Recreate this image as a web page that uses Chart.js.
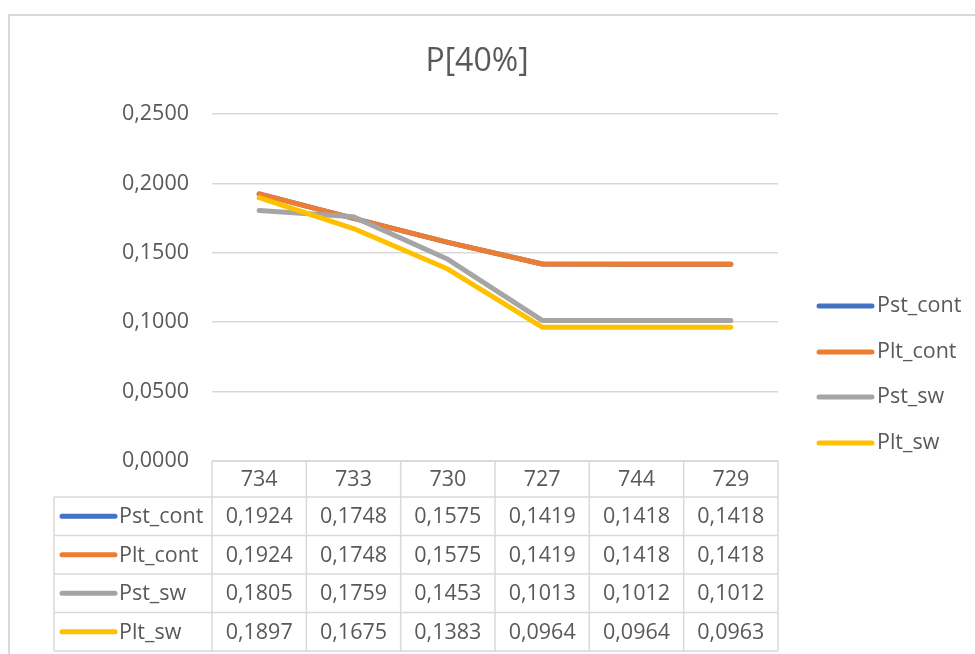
<!DOCTYPE html>
<html lang="es">
<head>
  <meta charset="UTF-8">
  <title>P[40%]</title>
  <script src="https://cdn.jsdelivr.net/npm/chart.js"></script>
  <style>
    html, body {
      margin: 0;
      padding: 0;
      background-color: #fff;
    }
    .container {
      position: relative;
      width: 975px;
      height: 654px;
    }
  </style>
</head>
<body>
  <div class="container">
    <canvas id="graficoP40" width="975" height="654"></canvas>
  </div>

  <script>
    // Datos
    const categorias = ['734', '733', '730', '727', '744', '729'];
    const pstCont = [0.1924, 0.1748, 0.1575, 0.1419, 0.1418, 0.1418];
    const pltCont = [0.1924, 0.1748, 0.1575, 0.1419, 0.1418, 0.1418];
    const pstSw = [0.1805, 0.1759, 0.1453, 0.1013, 0.1012, 0.1012];
    const pltSw = [0.1897, 0.1675, 0.1383, 0.0964, 0.0964, 0.0963];
    const nombres = ['Pst_cont', 'Plt_cont', 'Pst_sw', 'Plt_sw'];
    const colores = ['#4472C4', '#ED7D31', '#A5A5A5', '#FFC000'];
    const titulo = 'P[40%]';

    const fuente = '"Open Sans", "Noto Sans", sans-serif';
    const gris = '#595959';
    const lineaTabla = '#d9d9d9';
    const tamTexto = 21.5;

    const formato = v => v.toFixed(4).replace('.', ',');

    // Titulo, leyenda, tabla de datos y borde
    const extras = {
      id: 'extras',
      afterDraw(chart) {
        const ctx = chart.ctx;
        const x = chart.scales.x;
        const area = chart.chartArea;
        const series = chart.data.datasets;
        ctx.save();

        // borde del grafico
        ctx.strokeStyle = lineaTabla;
        ctx.lineWidth = 2;
        ctx.beginPath();
        ctx.moveTo(9, 660);
        ctx.lineTo(9, 15);
        ctx.lineTo(980, 15);
        ctx.stroke();

        // titulo
        ctx.fillStyle = gris;
        ctx.font = '32px ' + fuente;
        ctx.textAlign = 'center';
        ctx.textBaseline = 'middle';
        ctx.fillText(titulo, 477, 62);

        // leyenda derecha
        ctx.font = tamTexto + 'px ' + fuente;
        ctx.textAlign = 'left';
        const ly = [306, 352, 397, 443];
        series.forEach((ds, i) => {
          ctx.strokeStyle = ds.borderColor;
          ctx.lineWidth = 5;
          ctx.lineCap = 'round';
          ctx.beginPath();
          ctx.moveTo(819, ly[i]);
          ctx.lineTo(872, ly[i]);
          ctx.stroke();
          ctx.fillStyle = gris;
          ctx.fillText(ds.label, 877, ly[i]);
        });

        // tabla de datos
        const top = area.bottom;
        const headH = 36;
        const rowH = 38.5;
        const left = 54;
        const paso = x.getPixelForValue(1) - x.getPixelForValue(0);
        const bordes = [area.left];
        for (let i = 0; i < categorias.length; i++) {
          bordes.push(x.getPixelForValue(i) + paso / 2);
        }
        const bottom = top + headH + rowH * series.length;
        ctx.strokeStyle = lineaTabla;
        ctx.lineWidth = 1.5;
        ctx.lineCap = 'butt';
        ctx.beginPath();
        // horizontales
        ctx.moveTo(area.left, top); ctx.lineTo(area.right, top);
        for (let r = 0; r <= series.length; r++) {
          const y = top + headH + r * rowH;
          ctx.moveTo(left, y); ctx.lineTo(area.right, y);
        }
        // verticales
        ctx.moveTo(left, top + headH); ctx.lineTo(left, bottom);
        bordes.forEach(b => { ctx.moveTo(b, top); ctx.lineTo(b, bottom); });
        ctx.stroke();

        ctx.fillStyle = gris;
        ctx.textAlign = 'center';
        categorias.forEach((c, i) => {
          ctx.fillText(c, x.getPixelForValue(i), top + headH / 2 + 1);
        });
        series.forEach((ds, r) => {
          const cy = top + headH + rowH * r + rowH / 2 + 1;
          ctx.strokeStyle = ds.borderColor;
          ctx.lineWidth = 5;
          ctx.lineCap = 'round';
          ctx.beginPath();
          ctx.moveTo(62, cy - 1);
          ctx.lineTo(115, cy - 1);
          ctx.stroke();
          ctx.fillStyle = gris;
          ctx.textAlign = 'left';
          ctx.fillText(ds.label, 119, cy);
          ctx.textAlign = 'center';
          ds.data.forEach((v, i) => {
            ctx.fillText(formato(v), x.getPixelForValue(i), cy);
          });
        });
        ctx.restore();
      }
    };

    const valores = [pstCont, pltCont, pstSw, pltSw];
    const ctxP = document.getElementById('graficoP40').getContext('2d');
    new Chart(ctxP, {
      type: 'line',
      data: {
        labels: categorias,
        datasets: valores.map((serie, i) => ({
          label: nombres[i],
          data: serie,
          borderColor: colores[i],
          backgroundColor: colores[i],
          borderWidth: 5,
          borderCapStyle: 'round',
          borderJoinStyle: 'round',
          pointRadius: 0,
          tension: 0,
          order: valores.length - i
        }))
      },
      options: {
        responsive: false,
        animation: false,
        layout: {
          padding: { top: 114, left: 0, right: 197, bottom: 193 }
        },
        plugins: {
          legend: { display: false },
          title: { display: false },
          tooltip: { enabled: false }
        },
        scales: {
          x: {
            type: 'category',
            display: false,
            offset: true
          },
          y: {
            min: 0,
            max: 0.25,
            afterFit(scale) { scale.width = 212; },
            border: { display: false },
            grid: { color: lineaTabla, lineWidth: 1.5, drawTicks: false },
            ticks: {
              stepSize: 0.05,
              padding: 23,
              color: gris,
              font: { family: fuente, size: tamTexto },
              callback: v => formato(v)
            }
          }
        }
      },
      plugins: [extras]
    });
  </script>
</body>
</html>
